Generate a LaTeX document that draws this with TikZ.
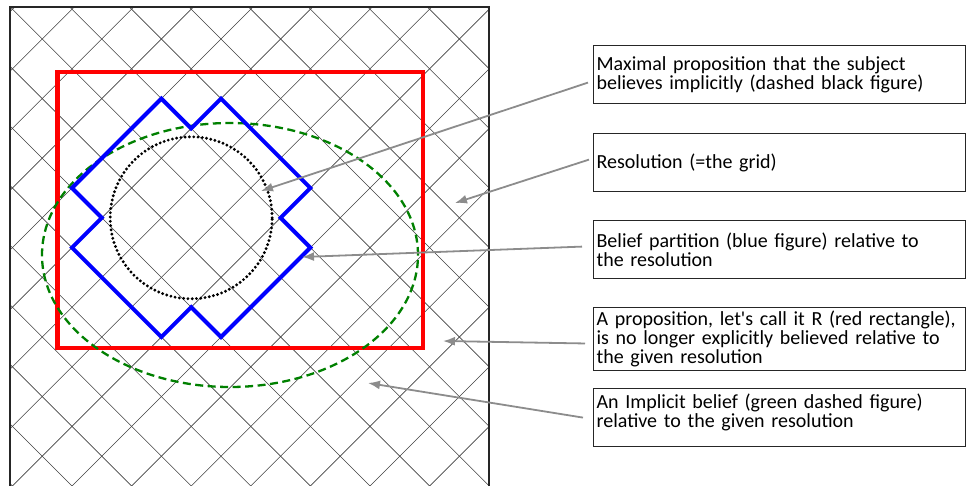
\documentclass[tikz,border=0pt]{standalone}
\usepackage{fontspec}
\setmainfont{Carlito}
\usetikzlibrary{arrows.meta}

\begin{document}
\begin{tikzpicture}[x=1pt, y=-1pt, every node/.style={font=\fontsize{20}{19}\selectfont}, >={Latex[length=12pt, width=9pt]},
	note/.style={draw=black!85, line width=1.2pt, anchor=north west, minimum width=372pt, minimum height=58pt, text width=366pt, inner xsep=3pt, align=left},
	pointer/.style={->, draw=black!45, line width=1.8pt}]
	\useasboundingbox (0,0) rectangle (966,485);
	% resolution grid
	\begin{scope}
		\clip (10,7) rectangle (489,490);
		\begin{scope}[shift={(72,188)}, x=29.8pt, y=-29.8pt]
			\foreach \k in {-8,...,13} {
				\draw[black!75, line width=0.6pt] (2*\k+14,-14) -- (2*\k-14,14);
				\draw[black!75, line width=0.6pt] (2*\k-14,-14) -- (2*\k+14,14);
			}
		\end{scope}
	\end{scope}
	\draw[black!85, line width=1.3pt] (10,490) -- (10,7) -- (489,7) -- (489,490);
	% proposition R
	\draw[red, line width=4.5pt] (57.5,72) rectangle (423,348);
	% implicit belief
	\draw[green!50!black, line width=2.3pt, dash pattern=on 8pt off 4.5pt] (230,255) ellipse [x radius=188pt, y radius=132pt];
	% belief partition
	\begin{scope}[shift={(72,188)}, x=29.8pt, y=-29.8pt]
		\draw[blue, line width=4pt, line join=miter] (0,0) -- (3,-3) -- (4,-2) -- (5,-3) -- (8,0) -- (7,1) -- (8,2) -- (5,5) -- (4,4) -- (3,5) -- (0,2) -- (1,1) -- cycle;
	\end{scope}
	% maximal proposition
	\draw[black, line width=3.2pt, line cap=round, dash pattern=on 0pt off 4.3pt] (191.2,217.8) circle [radius=81pt];
	% labels
	\node[note] (maxprop) at (593,45) {Maximal proposition that the subject\\believes implicitly (dashed black figure)};
	\node[note] (resol) at (593,133) {Resolution (=the grid)};
	\node[note] (partition) at (593,220) {Belief partition (blue figure) relative to\\the resolution};
	\node[note] (proprect) at (593,307) {A proposition, let\textquotesingle s call it R (red rectangle),\\is no longer explicitly believed relative to\\the given resolution};
	\node[note, text depth=33pt] (implicit) at (593,388) {An Implicit belief (green dashed figure)\\relative to the given resolution};
	\coordinate (circpt) at (261,191);
	\coordinate (gridpt) at (455,203);
	\coordinate (partpt) at (302,257);
	\coordinate (rectpt) at (443,341);
	\coordinate (ellpt) at (368,383);
	\draw[pointer] ([shift={(-5,8)}]maxprop.west) -- (circpt);
	\draw[pointer] ([shift={(-4,-3)}]resol.west) -- (gridpt);
	\draw[pointer] ([shift={(-11,-3)}]partition.west) -- (partpt);
	\draw[pointer] ([shift={(-8,4.5)}]proprect.west) -- (rectpt);
	\draw[pointer] ([shift={(-10,0)}]implicit.west) -- (ellpt);
\end{tikzpicture}
\end{document}
